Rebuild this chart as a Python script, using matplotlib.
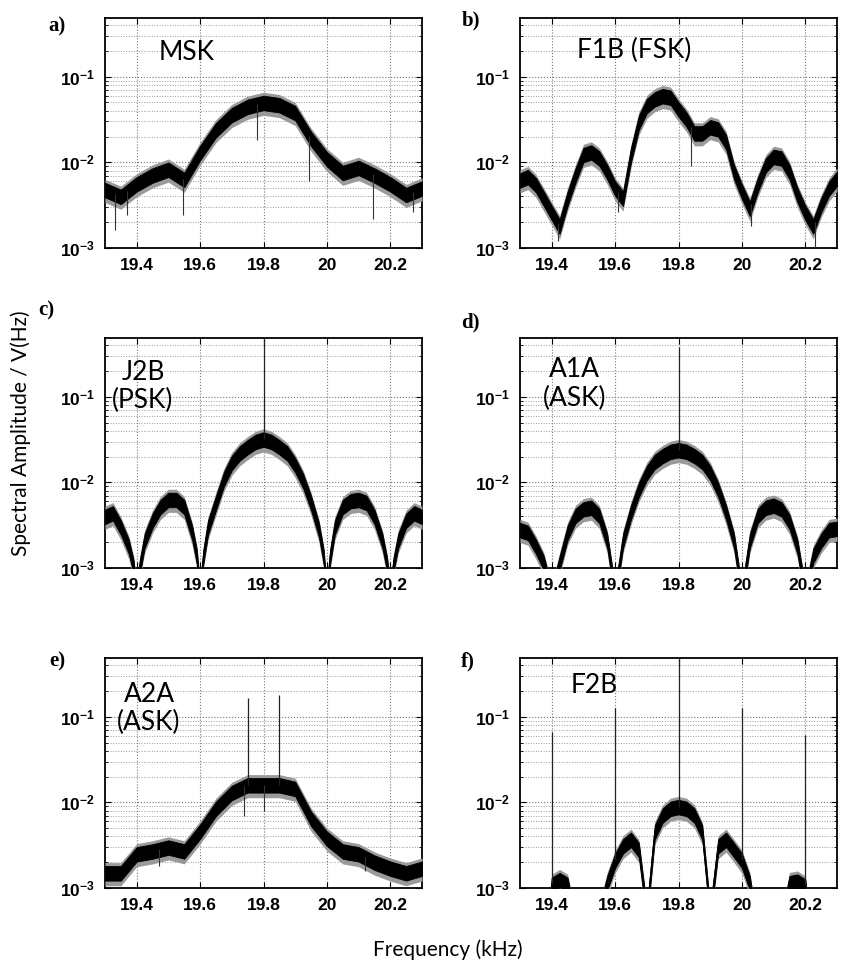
import numpy as np
import matplotlib
matplotlib.use("Agg")
import matplotlib.pyplot as plt
from matplotlib.ticker import LogLocator, NullFormatter, FixedLocator

plt.rcParams['font.family'] = ['Liberation Sans', 'DejaVu Sans']
plt.rcParams['font.weight'] = 'bold'
plt.rcParams['mathtext.fontset'] = 'custom'
plt.rcParams['mathtext.rm'] = 'Liberation Sans:bold'
plt.rcParams['mathtext.bf'] = 'Liberation Sans:bold'

# ---- data (amplitude, 1/sqrt(Hz)) ----
NULL = 5e-4  # below the axis floor

freq_a = [19.30, 19.35, 19.40, 19.45, 19.50, 19.55, 19.60, 19.65, 19.70, 19.75, 19.80,
          19.85, 19.90, 19.95, 20.00, 20.05, 20.10, 20.15, 20.20, 20.25, 20.30]
amp_a = [4.8e-3, 4.0e-3, 5.6e-3, 7.1e-3, 8.3e-3, 6.3e-3, 1.3e-2, 2.4e-2, 3.6e-2, 4.5e-2, 5.0e-2,
         4.7e-2, 3.8e-2, 1.9e-2, 1.1e-2, 7.6e-3, 8.7e-3, 7.1e-3, 5.6e-3, 4.2e-3, 5.0e-3]
dips_a = [(19.33, 1.6e-3), (19.37, 2.4e-3), (19.545, 2.4e-3), (19.78, 1.8e-2), (19.945, 6.0e-3),
          (20.145, 2.2e-3), (20.27, 2.6e-3)]

freq_b = [19.300, 19.325, 19.350, 19.375, 19.400, 19.425, 19.450, 19.475, 19.500, 19.525, 19.550,
          19.575, 19.600, 19.625, 19.650, 19.675, 19.700, 19.725, 19.750, 19.775, 19.800, 19.825,
          19.850, 19.875, 19.900, 19.925, 19.950, 19.975, 20.000, 20.025, 20.050, 20.075, 20.100,
          20.125, 20.150, 20.175, 20.200, 20.225, 20.250, 20.275, 20.300]
amp_b = [6.2e-3, 6.8e-3, 5.5e-3, 3.8e-3, 2.6e-3, 1.8e-3, 3.8e-3, 7.1e-3, 1.23e-2, 1.32e-2, 1.12e-2,
         7.8e-3, 5.0e-3, 3.8e-3, 1.23e-2, 2.95e-2, 4.6e-2, 5.5e-2, 6.0e-2, 5.75e-2, 4.2e-2, 3.2e-2,
         2.2e-2, 2.2e-2, 2.6e-2, 2.45e-2, 1.75e-2, 7.8e-3, 4.6e-3, 2.9e-3, 5.5e-3, 9.3e-3, 1.17e-2,
         1.12e-2, 7.8e-3, 4.2e-3, 2.6e-3, 1.8e-3, 3.2e-3, 5.0e-3, 6.5e-3]
dips_b = [(19.42, 1.2e-3), (19.61, 2.6e-3), (19.84, 9e-3), (20.03, 1.8e-3), (20.23, 1.0e-3)]

freq_c = [19.300, 19.325, 19.350, 19.375, 19.390, 19.400, 19.410, 19.425, 19.450, 19.475, 19.500,
          19.525, 19.550, 19.575, 19.590, 19.600, 19.610, 19.625, 19.650, 19.675, 19.700, 19.725,
          19.750, 19.775, 19.800, 19.825, 19.850, 19.875, 19.900, 19.925, 19.950, 19.975, 19.990,
          20.000, 20.010, 20.025, 20.050, 20.075, 20.100, 20.125, 20.150, 20.175, 20.190, 20.200,
          20.210, 20.225, 20.250, 20.275, 20.300]
amp_c = [4.0e-3, 4.4e-3, 3.0e-3, 1.8e-3, 1.05e-3, NULL, 1.05e-3, 2.1e-3, 3.6e-3, 5.2e-3, 6.3e-3,
         6.3e-3, 5.2e-3, 2.6e-3, 1.35e-3, NULL, 1.35e-3, 3.0e-3, 5.8e-3, 1.1e-2, 1.7e-2, 2.2e-2,
         2.6e-2, 3.0e-2, 3.2e-2, 3.0e-2, 2.6e-2, 2.2e-2, 1.6e-2, 1.05e-2, 5.8e-3, 2.8e-3, 1.35e-3,
         NULL, 1.35e-3, 3.0e-3, 5.2e-3, 6.1e-3, 6.3e-3, 5.8e-3, 4.0e-3, 2.1e-3, 1.1e-3, NULL,
         1.1e-3, 2.1e-3, 3.6e-3, 4.4e-3, 4.0e-3]

freq_d = [19.300, 19.325, 19.350, 19.375, 19.400, 19.425, 19.450, 19.475, 19.500, 19.525, 19.550,
          19.575, 19.600, 19.625, 19.650, 19.675, 19.700, 19.725, 19.750, 19.775, 19.800, 19.825,
          19.850, 19.875, 19.900, 19.925, 19.950, 19.975, 20.000, 20.025, 20.050, 20.075, 20.100,
          20.125, 20.150, 20.175, 20.200, 20.225, 20.250, 20.275, 20.300]
amp_d = [2.8e-3, 2.6e-3, 1.8e-3, 1.15e-3, NULL, 1.15e-3, 2.6e-3, 4.1e-3, 4.9e-3, 5.1e-3, 4.1e-3,
         2.1e-3, NULL, 2.1e-3, 4.5e-3, 8.3e-3, 1.3e-2, 1.75e-2, 2.05e-2, 2.3e-2, 2.4e-2, 2.3e-2,
         2.05e-2, 1.75e-2, 1.3e-2, 8.3e-3, 4.5e-3, 2.1e-3, NULL, 2.1e-3, 4.1e-3, 5.1e-3, 5.4e-3,
         4.9e-3, 3.5e-3, 1.8e-3, NULL, 1.4e-3, 2.1e-3, 2.8e-3, 2.9e-3]

freq_e = freq_a
amp_e = [1.5e-3, 1.5e-3, 2.5e-3, 2.7e-3, 3.0e-3, 2.7e-3, 4.6e-3, 8.5e-3, 1.3e-2, 1.6e-2, 1.6e-2,
         1.6e-2, 1.45e-2, 6.5e-3, 3.8e-3, 2.7e-3, 2.5e-3, 2.0e-3, 1.7e-3, 1.5e-3, 1.7e-3]
dips_e = [(19.47, 1.8e-3), (19.74, 7e-3), (19.80, 8e-3), (20.12, 1.6e-3)]

freq_f = [19.300, 19.390, 19.400, 19.425, 19.450, 19.470, 19.550, 19.575, 19.600, 19.625, 19.650,
          19.675, 19.700, 19.725, 19.750, 19.775, 19.800, 19.825, 19.850, 19.875, 19.900, 19.925,
          19.950, 19.975, 20.000, 20.025, 20.040, 20.130, 20.150, 20.175, 20.200, 20.210, 20.300]
amp_f = [NULL, NULL, 1.1e-3, 1.25e-3, 1.1e-3, NULL, NULL, 1.15e-3, 2.1e-3, 3.1e-3, 3.7e-3,
         2.8e-3, NULL, 4.5e-3, 7.1e-3, 8.5e-3, 8.9e-3, 8.5e-3, 7.1e-3, 4.5e-3, NULL, 3.1e-3,
         3.7e-3, 2.8e-3, 2.1e-3, 1.15e-3, NULL, NULL, 1.15e-3, 1.2e-3, 1.05e-3, NULL, NULL]

# discrete lines (carrier / tones): (freq, amplitude)
tones_c = [(19.80, 0.6)]
tones_d = [(19.80, 0.38)]
tones_e = [(19.75, 0.166), (19.85, 0.18)]
tones_f = [(19.40, 0.066), (19.60, 0.127), (19.80, 0.6), (20.00, 0.127), (20.20, 0.062)]

titles = ['MSK', 'F1B (FSK)', 'J2B\n(PSK)', 'A1A\n(ASK)', 'A2A\n(ASK)', 'F2B']
letters = ['a)', 'b)', 'c)', 'd)', 'e)', 'f)']
xtick_vals = [19.4, 19.6, 19.8, 20.0, 20.2]
xtick_text = ['19.4', '19.6', '19.8', '20', '20.2']

panels = [
    (freq_a, amp_a, dips_a, []),
    (freq_b, amp_b, dips_b, []),
    (freq_c, amp_c, [], tones_c),
    (freq_d, amp_d, [], tones_d),
    (freq_e, amp_e, dips_e, tones_e),
    (freq_f, amp_f, [], tones_f),
]

fig = plt.figure(figsize=(8.42, 9.63), dpi=100)

# axes rectangles (left, bottom, width, height) in figure fraction
lefts = [0.1247, 0.6176]
bottoms = [0.7425, 0.4102, 0.0779]
title_pos = [(0.17, 0.85, 'left'), (0.18, 0.86, 'left'), (0.12, 0.79, 'center'),
             (0.171, 0.80, 'center'), (0.139, 0.78, 'center'), (0.16, 0.88, 'left')]
letter_pos = [(0.058, 0.983), (0.548, 0.989), (0.046, 0.688),
              (0.548, 0.675), (0.058, 0.324), (0.547, 0.324)]


def log_interp(x, xs, ys):
    return 10 ** np.interp(x, xs, np.log10(ys))


for i, (f, amp, dips, tones) in enumerate(panels):
    ax = fig.add_axes([lefts[i % 2], bottoms[i // 2], 0.3765, 0.2388])
    f = np.array(f)
    amp = np.array(amp)
    # noisy band: dark core plus lighter fuzz
    ax.fill_between(f, amp / 10 ** 0.15, amp * 10 ** 0.12, color='#9a9a9a', lw=0, zorder=3)
    ax.fill_between(f, amp / 10 ** 0.09, amp * 10 ** 0.08, color='black', lw=0.6, zorder=3)
    ax.plot(f, amp, color='black', lw=0.8, zorder=3)
    for df, dv in dips:
        ax.vlines(df, dv, log_interp(df, f, amp), color='#333333', lw=0.8, zorder=3)
    for tf, tv in tones:
        ax.vlines(tf, log_interp(tf, f, amp), tv, color='#222222', lw=0.9, zorder=3)

    ax.set_yscale('log')
    ax.set_xlim(19.3, 20.3)
    ax.set_ylim(1e-3, 0.485)
    ax.xaxis.set_major_locator(FixedLocator(xtick_vals))
    ax.set_xticklabels(xtick_text)
    ax.yaxis.set_major_locator(LogLocator(base=10, numticks=10))
    ax.yaxis.set_minor_locator(LogLocator(base=10, subs=np.arange(2, 10), numticks=20))
    ax.yaxis.set_minor_formatter(NullFormatter())
    ax.grid(True, which='major', axis='both', ls=':', color='#777777', lw=0.8)
    ax.grid(True, which='minor', axis='y', ls=':', color='#999999', lw=0.7)
    ax.set_axisbelow(True)
    ax.tick_params(which='both', direction='in', top=True, right=True)
    ax.tick_params(which='major', length=4, width=0.8, labelsize=12.5, pad=7)
    ax.tick_params(which='minor', length=2, width=0.6)
    for sp in ax.spines.values():
        sp.set_linewidth(1.3)

    tx, ty, ha = title_pos[i]
    ax.text(tx, ty, titles[i], transform=ax.transAxes, ha=ha, va='center',
            fontsize=19, family='Lato', weight='normal', linespacing=1.15, zorder=5)
    lx, ly = letter_pos[i]
    fig.text(lx, ly, letters[i], ha='left', va='top', fontsize=15,
             family='Liberation Serif', weight='bold')

fig.text(0.024, 0.55, 'Spectral Amplitude / V(Hz)', rotation=90, ha='center', va='center',
         fontsize=15, family='Lato', weight='normal')
fig.text(0.532, 0.0135, 'Frequency (kHz)', ha='center', va='center', fontsize=15,
         family='Lato', weight='normal')

fig.savefig('out.png', dpi=100)
